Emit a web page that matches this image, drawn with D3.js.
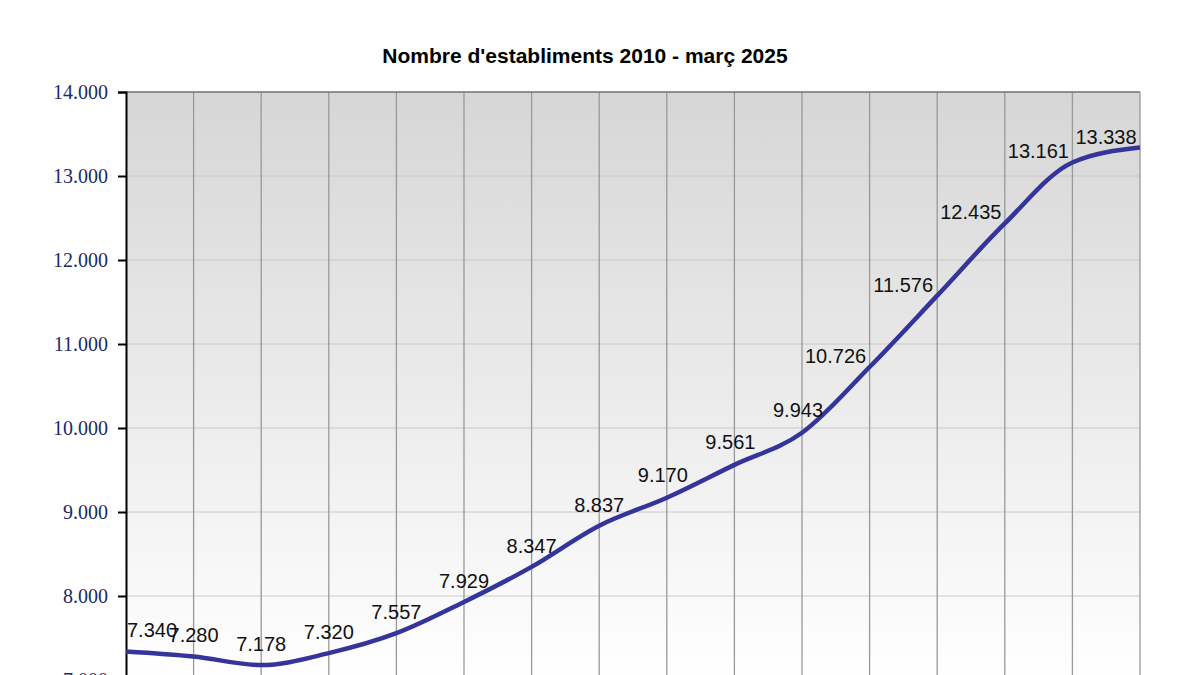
<!DOCTYPE html><html><head><script src="https://cdn.jsdelivr.net/npm/d3@7"></script>
<style>body{margin:0;background:#fff}</style></head><body><svg id="c" width="1200" height="675"></svg>
<script>
const years=["2010","2011","2012","2013","2014","2015","2016","2017","2018","2019","2020","2021","2022","2023","2024","març 2025"];
const values=[7340,7280,7178,7320,7557,7929,8347,8837,9170,9561,9943,10726,11576,12435,13161,13338];
const yTicks=[7000,8000,9000,10000,11000,12000,13000,14000];
const svg=d3.select("#c");
const L=126,R=1140,T=92,B=680;
const x=d3.scalePoint().domain(years).range([L,R]);
const y=d3.scaleLinear().domain([7000,14000]).range([B,T]);
const defs=svg.append("defs");
const g=defs.append("linearGradient").attr("id","bg").attr("x1",0).attr("x2",0).attr("y1",0).attr("y2",1);
g.append("stop").attr("offset",0).attr("stop-color","#d6d6d6");
g.append("stop").attr("offset",1).attr("stop-color","#ffffff");
svg.append("rect").attr("x",L).attr("y",T).attr("width",R-L).attr("height",B-T).attr("fill","url(#bg)");
svg.selectAll(".hg").data(yTicks).join("line").attr("x1",L).attr("x2",R).attr("y1",d=>y(d)).attr("y2",d=>y(d)).attr("stroke","#c8c8c8").attr("stroke-width",1);
svg.selectAll(".vg").data(years.slice(1)).join("line").attr("x1",d=>x(d)).attr("x2",d=>x(d)).attr("y1",T).attr("y2",B).attr("stroke","#999").attr("stroke-width",1.3);
svg.append("line").attr("x1",L).attr("x2",R).attr("y1",T).attr("y2",T).attr("stroke","#777").attr("stroke-width",1.5);
const ax=svg.append("g").attr("transform",`translate(${L},0)`).call(d3.axisLeft(y).tickValues(yTicks).tickSize(8).tickPadding(10).tickFormat(d=>d3.format(",")(d).replace(/,/g,".")));
ax.select(".domain").attr("stroke","#000").attr("stroke-width",2);
ax.selectAll("line").attr("stroke","#000").attr("stroke-width",2);
ax.selectAll("text").attr("font-family","Liberation Serif").attr("font-size",20).attr("fill","#1a2a6a");
const line=d3.line().x((d,i)=>x(years[i])).y(d=>y(d)).curve(d3.curveMonotoneX);
svg.append("path").datum(values).attr("d",line).attr("fill","none").attr("stroke","#34349a").attr("stroke-width",4.5);
function dx(i){ if(i==0) return 26; if(i>=11) return -34; if(i>=8) return -4; return 0; }
svg.selectAll(".lb").data(values).join("text").attr("x",(d,i)=>x(years[i])+dx(i)).attr("y",(d,i)=>y(d)-(i>=11?4:i>=8?16:14))
 .attr("text-anchor","middle").attr("font-family","Liberation Sans").attr("font-size",20).attr("fill","#111").text(d=>d3.format(",")(d).replace(/,/g,"."));
svg.append("text").attr("x",585).attr("y",63).attr("text-anchor","middle").attr("font-family","Liberation Sans").attr("font-weight","bold").attr("font-size",21).text("Nombre d'establiments 2010 - març 2025");
</script></body></html>
